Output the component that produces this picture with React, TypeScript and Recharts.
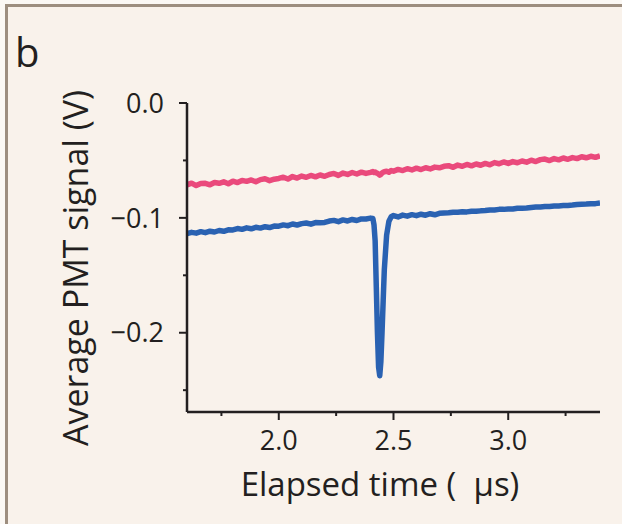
import { LineChart, Line, XAxis, YAxis } from "recharts";

// elapsed time (µs)
const TIME = [
  1.6, 1.62, 1.64, 1.66, 1.68, 1.7, 1.72, 1.74, 1.76, 1.78,
  1.8, 1.82, 1.84, 1.86, 1.88, 1.9, 1.92, 1.94, 1.96, 1.98,
  2.0, 2.02, 2.04, 2.06, 2.08, 2.1, 2.12, 2.14, 2.16, 2.18,
  2.2, 2.22, 2.24, 2.26, 2.28, 2.3, 2.32, 2.34, 2.36, 2.38,
  2.4, 2.41, 2.415, 2.42, 2.425, 2.43, 2.435, 2.44, 2.445, 2.45, 2.455, 2.46, 2.47, 2.48, 2.49,
  2.5, 2.52, 2.54, 2.56, 2.58, 2.6, 2.62, 2.64, 2.66, 2.68,
  2.7, 2.72, 2.74, 2.76, 2.78, 2.8, 2.82, 2.84, 2.86, 2.88,
  2.9, 2.92, 2.94, 2.96, 2.98, 3.0, 3.02, 3.04, 3.06, 3.08,
  3.1, 3.12, 3.14, 3.16, 3.18, 3.2, 3.22, 3.24, 3.26, 3.28,
  3.3, 3.32, 3.34, 3.36, 3.38, 3.4,
];

// average PMT signal (V), upper trace
const PINK = [
  -0.0712, -0.0698, -0.0719, -0.0701, -0.0699, -0.0712, -0.0692, -0.0699, -0.0686, -0.0703,
  -0.0681, -0.0693, -0.0674, -0.0682, -0.0670, -0.0686, -0.0667, -0.0660, -0.0676, -0.0663,
  -0.0657, -0.0646, -0.0662, -0.0640, -0.0653, -0.0636, -0.0647, -0.0631, -0.0643, -0.0627,
  -0.0638, -0.0622, -0.0613, -0.0630, -0.0610, -0.0622, -0.0605, -0.0618, -0.0602, -0.0613,
  -0.0604, -0.0597, -0.0605, -0.0600, -0.0608, -0.0612, -0.0620, -0.0628, -0.0622, -0.0610, -0.0603, -0.0598, -0.0594, -0.0603, -0.0588,
  -0.0594, -0.0578, -0.0588, -0.0572, -0.0583, -0.0567, -0.0579, -0.0564, -0.0574, -0.0558,
  -0.0564, -0.0551, -0.0546, -0.0560, -0.0540, -0.0551, -0.0535, -0.0547, -0.0531, -0.0542,
  -0.0526, -0.0538, -0.0519, -0.0529, -0.0513, -0.0526, -0.0510, -0.0520, -0.0505, -0.0515,
  -0.0498, -0.0510, -0.0493, -0.0488, -0.0501, -0.0484, -0.0495, -0.0479, -0.0490, -0.0475,
  -0.0484, -0.0468, -0.0477, -0.0464, -0.0473, -0.0459,
];

// lower trace with the dip
const BLUE = [
  -0.1137, -0.1126, -0.1133, -0.1120, -0.1129, -0.1116, -0.1123, -0.1110, -0.1117, -0.1104,
  -0.1105, -0.1093, -0.1100, -0.1087, -0.1095, -0.1082, -0.1089, -0.1077, -0.1084, -0.1071,
  -0.1072, -0.1061, -0.1068, -0.1053, -0.1062, -0.1050, -0.1045, -0.1055, -0.1041, -0.1042,
  -0.1040, -0.1028, -0.1022, -0.1033, -0.1018, -0.1027, -0.1014, -0.1023, -0.1009, -0.1010,
  -0.1002, -0.1005, -0.1060, -0.1200, -0.1600, -0.2000, -0.2300, -0.2374, -0.2250, -0.2000, -0.1720, -0.1450, -0.1150, -0.1030, -0.0990,
  -0.0980, -0.0992, -0.0976, -0.0985, -0.0972, -0.0981, -0.0968, -0.0977, -0.0964, -0.0973,
  -0.0960, -0.0957, -0.0956, -0.0951, -0.0951, -0.0946, -0.0948, -0.0942, -0.0943, -0.0939,
  -0.0936, -0.0931, -0.0931, -0.0926, -0.0926, -0.0922, -0.0923, -0.0917, -0.0917, -0.0914,
  -0.0909, -0.0906, -0.0905, -0.0901, -0.0901, -0.0897, -0.0896, -0.0893, -0.0892, -0.0888,
  -0.0883, -0.0881, -0.0880, -0.0877, -0.0876, -0.0871,
];

const X_TICKS = [1.75, 2.0, 2.25, 2.5, 2.75, 3.0, 3.25];
const Y_TICKS = [0, -0.05, -0.1, -0.15, -0.2, -0.25];

const INK = "#231f20";
const FONT = "'Open Sans', 'Noto Sans', sans-serif";

const data = TIME.map((t, i) => ({ t, pink: PINK[i], blue: BLUE[i] }));

const isMajorX = (v: number) => Math.abs(v * 2 - Math.round(v * 2)) < 1e-6;
const isMajorY = (v: number) => Math.abs(v * 10 - Math.round(v * 10)) < 1e-6;

function XTick({ x, y, payload }: any) {
  const major = isMajorX(payload.value);
  return (
    <g>
      <line x1={x} x2={x} y1={y} y2={y + (major ? 8 : 4)} stroke={INK} strokeWidth={2} />
      {major && (
        <text x={x} y={y + 38} textAnchor="middle" fontSize={27} fill={INK} fontFamily={FONT}>
          {payload.value.toFixed(1)}
        </text>
      )}
    </g>
  );
}

function YTick({ x, y, payload }: any) {
  const v = payload.value;
  const major = isMajorY(v);
  return (
    <g>
      <line x1={x - (major ? 8 : 4)} x2={x} y1={y} y2={y} stroke={INK} strokeWidth={2} />
      {major && (
        <text x={x - 23} y={y} dy="0.36em" textAnchor="end" fontSize={27} fill={INK} fontFamily={FONT}>
          {v === 0 ? "0.0" : "\u2212" + Math.abs(v).toFixed(1)}
        </text>
      )}
    </g>
  );
}

export default function App() {
  return (
    <div style={{ position: "relative", width: 622, height: 524, background: "#fbf8f4", overflow: "hidden" }}>
      <style>{"body{margin:0}"}</style>
      <div
        style={{
          position: "absolute",
          left: 5,
          top: 4,
          width: 640,
          height: 540,
          background: "#f9f2eb",
          borderTop: "3px solid #9d8e7f",
          borderLeft: "3px solid #9d8e7f",
        }}
      />
      <div style={{ position: "absolute", left: 0, top: 0 }}>
        <LineChart width={622} height={524} data={data} margin={{ top: 103, right: 22, left: 0, bottom: 0 }}>
          <XAxis
            dataKey="t"
            type="number"
            domain={[1.6, 3.4]}
            allowDataOverflow
            ticks={X_TICKS}
            interval={0}
            height={112}
            tickSize={0}
            tickMargin={0}
            tickLine={false}
            tick={<XTick />}
            axisLine={{ stroke: INK, strokeWidth: 2.5 }}
          />
          <YAxis
            type="number"
            domain={[-0.269, 0]}
            allowDataOverflow
            ticks={Y_TICKS}
            interval={0}
            width={187}
            tickSize={0}
            tickMargin={0}
            tickLine={false}
            tick={<YTick />}
            axisLine={{ stroke: INK, strokeWidth: 2.5 }}
          />
          <Line
            dataKey="pink"
            type="linear"
            stroke="#ea4a7c"
            strokeWidth={5.5}
            dot={false}
            strokeLinejoin="round"
            isAnimationActive={false}
          />
          <Line
            dataKey="blue"
            type="linear"
            stroke="#2a62b2"
            strokeWidth={5.5}
            dot={false}
            strokeLinejoin="round"
            isAnimationActive={false}
          />
        </LineChart>
      </div>
      <svg
        width={622}
        height={524}
        style={{ position: "absolute", left: 0, top: 0, pointerEvents: "none" }}
        fontFamily={FONT}
      >
        <text x={15} y={67} fontSize={40} fill={INK}>
          b
        </text>
        <text transform="translate(88,268) rotate(-90)" textAnchor="middle" fontSize={34} fill={INK}>
          Average PMT signal (V)
        </text>
        <text x={380} y={496} textAnchor="middle" fontSize={33} fill={INK} style={{ whiteSpace: "pre" }}>
          {"Elapsed time (  \u00b5s)"}
        </text>
      </svg>
    </div>
  );
}
